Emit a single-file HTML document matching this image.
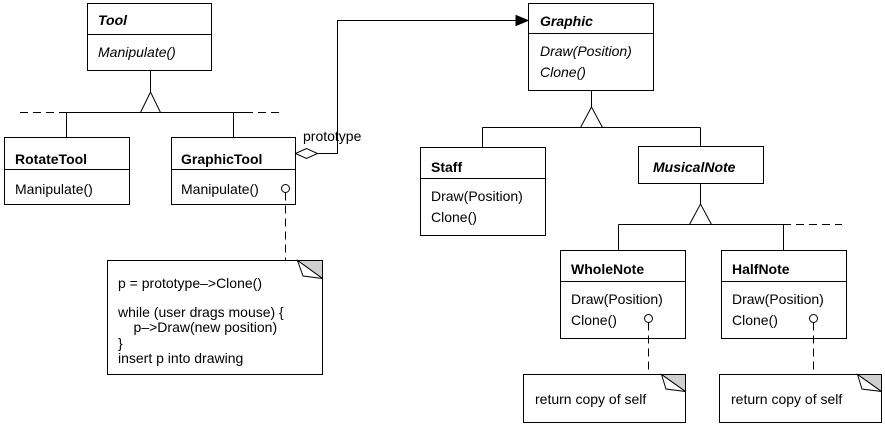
<!DOCTYPE html>
<html><head><meta charset="utf-8"><style>
html,body{margin:0;padding:0;background:#fff;}
svg{display:block;}
text{font-family:"Liberation Sans",sans-serif;font-size:14px;fill:#000;}
.b{font-weight:bold;}
.bi{font-weight:bold;font-style:italic;}
.i{font-style:italic;}
</style></head><body>
<svg width="885" height="425" viewBox="0 0 885 425" xmlns="http://www.w3.org/2000/svg">
<g fill="none" stroke="#000" stroke-width="1">
<rect x="87.5" y="3.5" width="124" height="67"/>
<line x1="87.5" y1="34.5" x2="211.5" y2="34.5"/>
<line x1="150.5" y1="70" x2="150.5" y2="92"/>
<polygon points="150.5,92 140.5,112.5 160.5,112.5" fill="#fff"/>
<line x1="60" y1="112.5" x2="245" y2="112.5"/>
<line x1="20" y1="112.5" x2="60" y2="112.5" stroke-dasharray="8,5"/>
<line x1="245" y1="112.5" x2="280" y2="112.5" stroke-dasharray="8,5"/>
<line x1="66.5" y1="112.5" x2="66.5" y2="137"/>
<line x1="233.5" y1="112.5" x2="233.5" y2="137"/>
<rect x="4.5" y="137.5" width="125" height="67"/>
<line x1="4.5" y1="169.5" x2="129.5" y2="169.5"/>
<rect x="171.5" y="137.5" width="124" height="67"/>
<line x1="171.5" y1="169.5" x2="295.5" y2="169.5"/>
<circle cx="285.5" cy="188.5" r="4"/>
<line x1="285.5" y1="192.5" x2="285.5" y2="260" stroke-dasharray="8,5"/>
<polygon points="295.5,153.5 306.5,148.5 317.5,153.5 306.5,158.5" fill="#fff"/>
<polyline points="317.5,153.5 337.5,153.5 337.5,20.5 518,20.5"/>
<polygon points="528,20.5 516,15.5 516,25.5" fill="#000"/>
<rect x="528.5" y="3.5" width="125" height="87"/>
<line x1="528.5" y1="33.5" x2="653.5" y2="33.5"/>
<line x1="591.5" y1="90" x2="591.5" y2="107"/>
<polygon points="591.5,107 580.5,127.5 602.5,127.5" fill="#fff"/>
<line x1="482.5" y1="127.5" x2="700.5" y2="127.5"/>
<line x1="482.5" y1="127.5" x2="482.5" y2="147"/>
<line x1="700.5" y1="127.5" x2="700.5" y2="146"/>
<rect x="420.5" y="147.5" width="125" height="88"/>
<line x1="420.5" y1="178.5" x2="545.5" y2="178.5"/>
<rect x="638.5" y="146.5" width="125" height="37"/>
<line x1="700.5" y1="183" x2="700.5" y2="204"/>
<polygon points="700.5,204 689.5,224.5 711.5,224.5" fill="#fff"/>
<line x1="618.5" y1="224.5" x2="783.5" y2="224.5"/>
<line x1="783" y1="224.5" x2="842" y2="224.5" stroke-dasharray="8,5"/>
<line x1="618.5" y1="224.5" x2="618.5" y2="250"/>
<line x1="783.5" y1="224.5" x2="783.5" y2="250"/>
<rect x="560.5" y="250.5" width="125" height="88"/>
<line x1="560.5" y1="281.5" x2="685.5" y2="281.5"/>
<circle cx="648.5" cy="318.5" r="4"/>
<line x1="648.5" y1="322.5" x2="648.5" y2="374" stroke-dasharray="8,5"/>
<rect x="721.5" y="250.5" width="125" height="88"/>
<line x1="721.5" y1="281.5" x2="846.5" y2="281.5"/>
<circle cx="813.5" cy="318.5" r="4"/>
<line x1="813.5" y1="322.5" x2="813.5" y2="374" stroke-dasharray="8,5"/>
<polygon points="107.5,260.5 297.5,260.5 322.5,278.5 322.5,374.5 107.5,374.5"/>
<polygon points="297.5,260.5 322.5,260.5 322.5,278.5" fill="#d0d0d0"/>
<polygon points="297.5,260.5 303,276 322.5,278.5" fill="#fff"/>
<polygon points="523.5,374.5 661.5,374.5 685.5,391.5 685.5,422.5 523.5,422.5"/>
<polygon points="661.5,374.5 685.5,374.5 685.5,391.5" fill="#d0d0d0"/>
<polygon points="661.5,374.5 666,389 685.5,391.5" fill="#fff"/>
<polygon points="719.5,374.5 857.5,374.5 881.5,391.5 881.5,422.5 719.5,422.5"/>
<polygon points="857.5,374.5 881.5,374.5 881.5,391.5" fill="#d0d0d0"/>
<polygon points="857.5,374.5 862,389 881.5,391.5" fill="#fff"/>
</g>
<text x="98" y="25" class="bi">Tool</text>
<text x="98" y="57" class="i">Manipulate()</text>
<text x="15" y="164" class="b">RotateTool</text>
<text x="15" y="194">Manipulate()</text>
<text x="181" y="164" class="b">GraphicTool</text>
<text x="181" y="194">Manipulate()</text>
<text x="303" y="141">prototype</text>
<text x="540" y="26" class="bi">Graphic</text>
<text x="540" y="56" class="i">Draw(Position)</text>
<text x="540" y="77" class="i">Clone()</text>
<text x="431" y="172" class="b">Staff</text>
<text x="431" y="201">Draw(Position)</text>
<text x="431" y="222">Clone()</text>
<text x="653" y="172" class="bi">MusicalNote</text>
<text x="571" y="274" class="b">WholeNote</text>
<text x="571" y="304">Draw(Position)</text>
<text x="571" y="325">Clone()</text>
<text x="732" y="274" class="b">HalfNote</text>
<text x="732" y="304">Draw(Position)</text>
<text x="732" y="325">Clone()</text>
<text x="118" y="288">p = prototype–&gt;Clone()</text>
<text x="118" y="317">while (user drags mouse) {</text>
<text x="118" y="332" xml:space="preserve">    p–&gt;Draw(new position)</text>
<text x="118" y="348">}</text>
<text x="118" y="363">insert p into drawing</text>
<text x="535" y="404">return copy of self</text>
<text x="731" y="404">return copy of self</text>
</svg>
</body></html>
